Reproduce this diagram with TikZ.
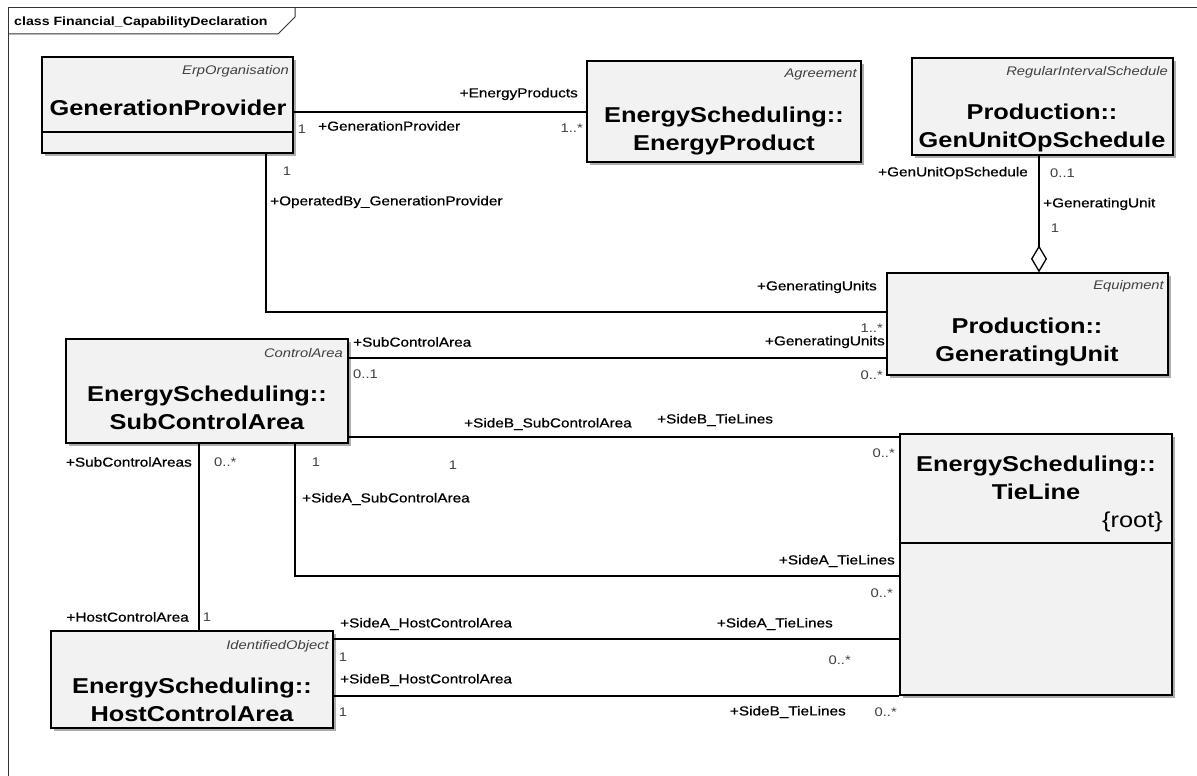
\documentclass[tikz,border=0pt]{standalone}
\usepackage{fontspec}
\setmainfont{Liberation Sans}[FakeStretch=1.18]
\newfontfamily\lblfont{Liberation Sans}[FakeStretch=1.18, FakeBold=0.6]
\usetikzlibrary{arrows.meta,shadows}
\definecolor{boxfill}{HTML}{F2F2F2}
\definecolor{multc}{HTML}{404040}
\definecolor{stc}{HTML}{404040}
\begin{document}
\begin{tikzpicture}[x=1pt,y=-1pt,
  cls/.style={draw=black, fill=boxfill, line width=1.2pt, inner sep=0,
    drop shadow={shadow xshift=3pt, shadow yshift=-3pt, fill=black!40, opacity=0.8}},
  clsb/.style={cls, line width=2.2pt},
  nm/.style={font=\fontsize{21.5}{28}\selectfont\bfseries, align=center, inner sep=0},
  st/.style={font=\fontsize{12.5}{14}\selectfont\itshape, text=stc, inner sep=0, anchor=east},
  rl/.style={font=\lblfont\fontsize{13}{15}\selectfont, inner sep=0},
  ml/.style={font=\fontsize{12.5}{14}\selectfont, text=multc, inner sep=0},
  con/.style={line width=2pt, draw=black},
]
\useasboundingbox (0,0) rectangle (1197,776);
\fill[white] (0,0) rectangle (1197,776);

% frame
\draw[line width=1pt, black!80] (8,776) -- (8,8) -- (1197,8);
\draw[line width=1pt, black!80] (8,34) -- (278,34) -- (295,17) -- (295,8);
\node[anchor=west, font=\fontsize{12}{14}\selectfont\bfseries, inner sep=0] (title) at (14,22) {class Financial\_CapabilityDeclaration};

% boxes
\node[cls, minimum width=251pt, minimum height=96pt] (gp) at (167.5,105) {};
\node[cls, minimum width=274pt, minimum height=101pt] (ep) at (724,111.5) {};
\node[cls, minimum width=261pt, minimum height=97pt] (guos) at (1042.5,106.5) {};
\node[cls, minimum width=281pt, minimum height=102pt] (gu) at (1027.5,324) {};
\node[clsb, minimum width=282pt, minimum height=104pt] (sca) at (207,391) {};
\node[clsb, minimum width=272pt, minimum height=261pt] (tl) at (1036,564.5) {};
\node[cls, minimum width=282pt, minimum height=97pt] (hca) at (192,679.5) {};

% compartments
\coordinate (cgp) at (0,132);
\draw[line width=1.2pt] (gp.west |- cgp) -- (gp.east |- cgp);
\coordinate (ctl) at (0,543);
\draw[line width=2.2pt] (tl.west |- ctl) -- (tl.east |- ctl);

% stereotypes
\node[st] (s1) at (289,71) {ErpOrganisation};
\node[st] (s2) at (857,74) {Agreement};
\node[st] (s3) at (1168,72) {RegularIntervalSchedule};
\node[st] (s4) at (1164,286) {Equipment};
\node[st] (s5) at (343,353) {ControlArea};
\node[st] (s6) at (329,646) {IdentifiedObject};

% names
\node[nm] (n1) at (168,108) {GenerationProvider};
\node[nm] (n2) at (724,131) {EnergyScheduling::\\EnergyProduct};
\node[nm] (n3) at (1042,128) {Production::\\GenUnitOpSchedule};
\node[nm] (n4) at (1027,342) {Production::\\GeneratingUnit};
\node[nm] (n5) at (207,408) {EnergyScheduling::\\SubControlArea};
\node[nm] (n6) at (192,700) {EnergyScheduling::\\HostControlArea};
\node[nm] (n7) at (1036,478) {EnergyScheduling::\\TieLine};
\node[font=\fontsize{21.5}{24}\selectfont, anchor=east, inner sep=0] (n8) at (1163,522) {\{root\}};

% connector coordinates
\coordinate (yA) at (0,112);
\coordinate (xB) at (266,0);
\coordinate (yB) at (0,312);
\coordinate (yC) at (0,358);
\coordinate (xD) at (1039,0);
\coordinate (yE) at (0,437);
\coordinate (xF) at (295,0);
\coordinate (yF) at (0,576);
\coordinate (xG) at (199,0);
\coordinate (yH) at (0,639);
\coordinate (yI) at (0,696);

% connectors
\draw[con] (gp.east |- yA) -- (ep.west |- yA);
\draw[con] (gp.south -| xB) -- (xB |- yB) -- (gu.west |- yB);
\draw[con] (sca.east |- yC) -- (gu.west |- yC);
\draw[con, -{Diamond[fill=white, length=27pt, width=16pt, line width=1.3pt]}] (guos.south -| xD) -- (gu.north -| xD);
\draw[con] (sca.east |- yE) -- (tl.west |- yE);
\draw[con] (sca.south -| xF) -- (xF |- yF) -- (tl.west |- yF);
\draw[con] (sca.south -| xG) -- (hca.north -| xG);
\draw[con] (hca.east |- yH) -- (tl.west |- yH);
\draw[con] (hca.east |- yI) -- (tl.west |- yI);

% GP-EP
\node[rl, anchor=east] (l1) at (578,94) {+EnergyProducts};
\node[ml, anchor=east] (m1) at (583,128) {1..*};
\node[ml] (m2) at (302,129) {1};
\node[rl, anchor=west] (l2) at (318,126) {+GenerationProvider};
% GP-GU
\node[ml] (m3) at (287,171) {1};
\node[rl, anchor=west] (l3) at (270,202) {+OperatedBy\_GenerationProvider};
\node[rl, anchor=east] (l4) at (877,287) {+GeneratingUnits};
\node[ml, anchor=east] (m4) at (883,328) {1..*};
% SCA-GU
\node[rl, anchor=west] (l5) at (353,342) {+SubControlArea};
\node[ml, anchor=west] (m5) at (353,374) {0..1};
\node[rl, anchor=east] (l6) at (885,342) {+GeneratingUnits};
\node[ml, anchor=east] (m6) at (883,375) {0..*};
% aggregation
\node[rl, anchor=east] (l7) at (1028,173) {+GenUnitOpSchedule};
\node[ml, anchor=west] (m7) at (1050,173) {0..1};
\node[rl, anchor=west] (l8) at (1043,204) {+GeneratingUnit};
\node[ml] (m8) at (1055,228) {1};
% SideB SCA-TL
\node[rl, anchor=west] (l9) at (464,424) {+SideB\_SubControlArea};
\node[rl, anchor=west] (l10) at (657,420) {+SideB\_TieLines};
\node[ml] (m9) at (453,465) {1};
\node[ml, anchor=east] (m10) at (895,453) {0..*};
% SideA SCA-TL
\node[ml] (m11) at (316,462) {1};
\node[rl, anchor=west] (l11) at (302,499) {+SideA\_SubControlArea};
\node[rl, anchor=east] (l12) at (895,561) {+SideA\_TieLines};
\node[ml, anchor=east] (m12) at (893,593) {0..*};
% SCA-HCA
\node[rl, anchor=east] (l13) at (192,462) {+SubControlAreas};
\node[ml, anchor=west] (m13) at (214,462) {0..*};
\node[rl, anchor=east] (l14) at (189,617) {+HostControlArea};
\node[ml] (m14) at (207,617) {1};
% HCA-TL A
\node[rl, anchor=west] (l15) at (340,624) {+SideA\_HostControlArea};
\node[ml] (m15) at (343,657) {1};
\node[rl, anchor=east] (l16) at (833,624) {+SideA\_TieLines};
\node[ml, anchor=east] (m16) at (851,660) {0..*};
% HCA-TL B
\node[rl, anchor=west] (l17) at (340,680) {+SideB\_HostControlArea};
\node[ml] (m17) at (343,712) {1};
\node[rl, anchor=east] (l18) at (846,712) {+SideB\_TieLines};
\node[ml, anchor=east] (m18) at (897,712) {0..*};
\end{tikzpicture}
\end{document}
